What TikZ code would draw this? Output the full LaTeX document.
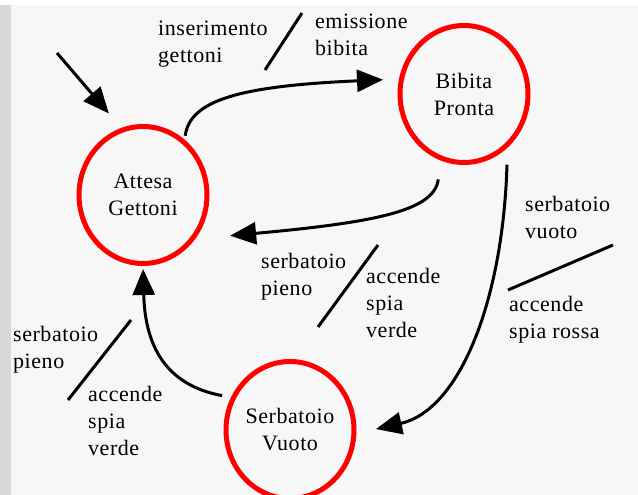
\documentclass[tikz,border=0pt]{standalone}
\usepackage{fontspec}
\setmainfont[LetterSpace=2.5]{Liberation Serif}
\usetikzlibrary{arrows.meta,shapes.geometric}
\definecolor{panel}{HTML}{F7F7F7}
\definecolor{strip}{HTML}{D8D8D8}
\begin{document}
\begin{tikzpicture}[x=1pt,y=-1pt,
    state/.style={ellipse,draw=red,line width=5pt,minimum width=128pt,
      minimum height=137pt,inner sep=0pt,align=center},
    trans/.style={-{Triangle[length=26pt,width=22pt]},line width=3pt},
    slash/.style={line width=3pt},
    lbl/.style={anchor=base west,align=left,inner sep=0pt},
    every node/.style={font=\fontsize{22}{27}\selectfont}]

    \useasboundingbox (0,0) rectangle (638,495);
    \fill[white] (0,0) rectangle (638,495);
    \fill[strip] (0,5) rectangle (11,495);
    \fill[panel] (11,5) rectangle (638,495);

    \node[state] (att)  at (143,195) {Attesa\\Gettoni};
    \node[state] (bib)  at (464,94)  {Bibita\\Pronta};
    \node[state] (serb) at (290,430) {Serbatoio\\Vuoto};
    \coordinate (init) at (57,53);

    \draw[trans,shorten >=19pt] (init) -- (att.108);
    \draw[trans,shorten <=4pt,shorten >=16pt] (att.53)
        .. controls (190,100) and (240,86) .. (bib.167);
    \draw[trans,shorten <=19pt,shorten >=35pt] (bib.-109)
        .. controls (434,210) and (380,222) .. (att.-40);
    \draw[trans,shorten <=17pt,shorten >=20pt] (bib.-51)
        .. controls (503,300) and (460,410) .. (serb.-3);
    \draw[trans,shorten <=9pt,shorten >=3pt] (serb.151)
        .. controls (165,385) and (145,345) .. (att.south);

    % transition labels (placed at the baseline of their last line)
    \node[lbl] (ins)  at (158,63)  {inserimento\\gettoni};
    \node[lbl] (emi)  at (315,56)  {emissione\\bibita};
    \node[lbl] (vuo)  at (525,238) {serbatoio\\vuoto};
    \node[lbl] (ros)  at (509,338) {accende\\spia rossa};
    \node[lbl] (pie1) at (261,295) {serbatoio\\pieno};
    \node[lbl] (ver1) at (366,337) {accende\\spia\\verde};
    \node[lbl] (pie2) at (13,368)  {serbatoio\\pieno};
    \node[lbl] (ver2) at (88,455)  {accende\\spia\\verde};

    \draw[slash] (265,70) -- (302,13);
    \draw[slash] (318,327) -- (378,245);
    \draw[slash] (508,290) -- (613,245);
    \draw[slash] (68,400) -- (131,320);

\end{tikzpicture}
\end{document}
